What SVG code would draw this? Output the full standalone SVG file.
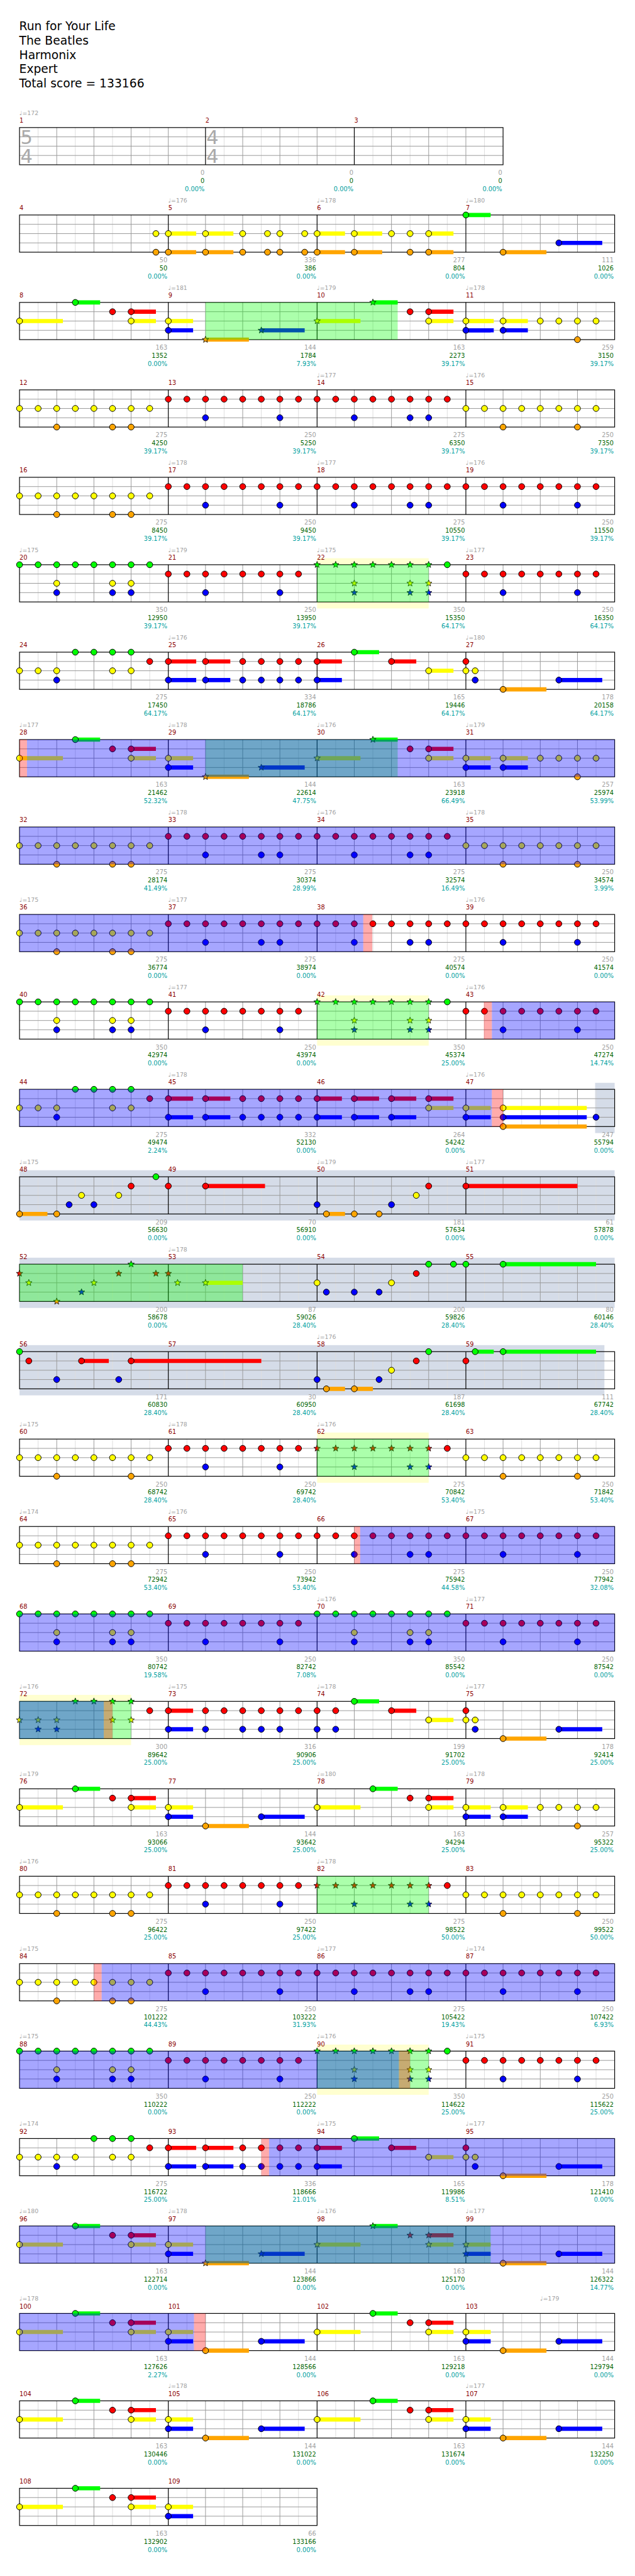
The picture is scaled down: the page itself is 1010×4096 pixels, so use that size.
<svg xmlns="http://www.w3.org/2000/svg" width="1010" height="4096" viewBox="0 0 1010 4096">
<style>
text{font-family:"DejaVu Sans",Verdana,sans-serif}
.h{font-size:19px;fill:#000}
.mn{font-size:10px;fill:#8b0000}
.tp{font-size:9.5px;fill:#a0a0a0}
.sc{font-size:10px;fill:#a0a0a0;text-anchor:end}
.c2{fill:#006400}.c3{fill:#00a0a0}
.ts{font-size:31px;fill:#aaa}
.sg,.sr,.sy,.sb,.so{stroke-width:6.7;fill:none}
.sg{stroke:#00ff00}.sr{stroke:#ff0000}.sy{stroke:#ffff00}.sb{stroke:#0000ff}.so{stroke:#ffa500}
.ovg{fill:#00ff00;fill-opacity:.33}.ovb{fill:#0000ff;fill-opacity:.35}.ovr{fill:#ff0000;fill-opacity:.33}
.bgy{fill:#ffffd0}.bgs{fill:#d5dce8}
.gl{stroke:#ddd;fill:none}.gd{stroke:#999;fill:none}.gb{stroke:#000;fill:none;stroke-width:1.2}
</style>
<defs>
<circle id="G" r="4.85" fill="#00ff00" stroke="#000"/>
<circle id="R" r="4.85" fill="#ff0000" stroke="#000"/>
<circle id="Y" r="4.85" fill="#ffff00" stroke="#000"/>
<circle id="B" r="4.85" fill="#0000ff" stroke="#000"/>
<circle id="O" r="4.85" fill="#ffa500" stroke="#000"/>
<path id="st" d="M0-5.5L1.35-1.86 5.23-1.7 2.19.71 3.23 4.45 0 2.3-3.23 4.45-2.19.71-5.23-1.7-1.35-1.86Z" stroke="#000" stroke-width=".8"/>
<use id="SG" href="#st" fill="#00ff00"/>
<use id="SR" href="#st" fill="#ff0000"/>
<use id="SY" href="#st" fill="#ffff00"/>
<use id="SB" href="#st" fill="#0000ff"/>
<use id="SO" href="#st" fill="#ffa500"/>
<g id="grid4">
<path class="gl" d="M61.5 0V60M121.5 0V60M181.5 0V60M241.5 0V60M301.5 0V60M361.5 0V60M421.5 0V60M481.5 0V60M541.5 0V60M601.5 0V60M661.5 0V60M721.5 0V60M781.5 0V60M841.5 0V60M901.5 0V60M961.5 0V60"/>
<path class="gd" d="M91.5 0V60M151.5 0V60M211.5 0V60M331.5 0V60M391.5 0V60M451.5 0V60M571.5 0V60M631.5 0V60M691.5 0V60M811.5 0V60M871.5 0V60M931.5 0V60M31.5 15H991.5M31.5 30H991.5M31.5 45H991.5"/>
<path class="gb" d="M271.5 0V60M511.5 0V60M751.5 0V60"/>
<rect class="gb" x="31.5" y="0" width="960" height="60"/>
</g>
<g id="grid0">
<path class="gl" d="M61.5 0V60M121.5 0V60M181.5 0V60M241.5 0V60M301.5 0V60M361.5 0V60M421.5 0V60M481.5 0V60M541.5 0V60M601.5 0V60M661.5 0V60M721.5 0V60M781.5 0V60"/>
<path class="gd" d="M91.5 0V60M151.5 0V60M211.5 0V60M271.5 0V60M391.5 0V60M451.5 0V60M511.5 0V60M631.5 0V60M691.5 0V60M751.5 0V60M31.5 15H811.5M31.5 30H811.5M31.5 45H811.5"/>
<path class="gb" d="M331.5 0V60M571.5 0V60"/>
<rect class="gb" x="31.5" y="0" width="780" height="60"/>
</g>
<g id="grid2">
<path class="gl" d="M61.5 0V60M121.5 0V60M181.5 0V60M241.5 0V60M301.5 0V60M361.5 0V60M421.5 0V60M481.5 0V60"/>
<path class="gd" d="M91.5 0V60M151.5 0V60M211.5 0V60M331.5 0V60M391.5 0V60M451.5 0V60M31.5 15H511.5M31.5 30H511.5M31.5 45H511.5"/>
<path class="gb" d="M271.5 0V60"/>
<rect class="gb" x="31.5" y="0" width="480" height="60"/>
</g>
<g id="e8R"><use href="#R" x="0" y="15"/><use href="#R" x="30" y="15"/><use href="#R" x="60" y="15"/><use href="#R" x="90" y="15"/><use href="#R" x="120" y="15"/><use href="#R" x="150" y="15"/><use href="#R" x="180" y="15"/><use href="#R" x="210" y="15"/></g>
<g id="e8Y"><use href="#Y" x="0" y="30"/><use href="#Y" x="30" y="30"/><use href="#Y" x="60" y="30"/><use href="#Y" x="90" y="30"/><use href="#Y" x="120" y="30"/><use href="#Y" x="150" y="30"/><use href="#Y" x="180" y="30"/><use href="#Y" x="210" y="30"/></g>
<g id="e8G"><use href="#G" x="0" y="0"/><use href="#G" x="30" y="0"/><use href="#G" x="60" y="0"/><use href="#G" x="90" y="0"/><use href="#G" x="120" y="0"/><use href="#G" x="150" y="0"/><use href="#G" x="180" y="0"/><use href="#G" x="210" y="0"/></g>
<g id="mA"><use href="#e8Y"/><use href="#O" x="60" y="60"/><use href="#O" x="150" y="60"/><use href="#O" x="180" y="60"/></g>
<g id="mD"><use href="#e8Y"/><use href="#O" x="60" y="60"/><use href="#O" x="180" y="60"/></g>
<g id="mB"><use href="#e8R"/><use href="#B" x="60" y="45"/><use href="#B" x="180" y="45"/></g>
<g id="mC"><use href="#e8R"/><use href="#B" x="60" y="45"/><use href="#B" x="150" y="45"/><use href="#B" x="180" y="45"/></g>
<g id="mE"><use href="#e8G"/><use href="#Y" x="60" y="30"/><use href="#Y" x="150" y="30"/><use href="#Y" x="180" y="30"/><use href="#B" x="60" y="45"/><use href="#B" x="150" y="45"/><use href="#B" x="180" y="45"/></g>
<g id="mS1"><use href="#SG" x="0" y="0"/><use href="#SG" x="30" y="0"/><use href="#SG" x="60" y="0"/><use href="#SG" x="90" y="0"/><use href="#SG" x="120" y="0"/><use href="#SG" x="150" y="0"/><use href="#SG" x="180" y="0"/><use href="#SY" x="60" y="30"/><use href="#SY" x="150" y="30"/><use href="#SY" x="180" y="30"/><use href="#SB" x="60" y="45"/><use href="#SB" x="150" y="45"/><use href="#SB" x="180" y="45"/><use href="#G" x="210" y="0"/></g>
<g id="mS2"><use href="#SR" x="0" y="15"/><use href="#SR" x="30" y="15"/><use href="#SR" x="60" y="15"/><use href="#SR" x="90" y="15"/><use href="#SR" x="120" y="15"/><use href="#SR" x="150" y="15"/><use href="#SR" x="180" y="15"/><use href="#SB" x="60" y="45"/><use href="#SB" x="150" y="45"/><use href="#SB" x="180" y="45"/><use href="#R" x="210" y="15"/></g>
<g id="mF"><use href="#G" x="90" y="0"/><use href="#G" x="120" y="0"/><use href="#G" x="150" y="0"/><use href="#G" x="180" y="0"/><use href="#R" x="210" y="15"/><use href="#Y" x="0" y="30"/><use href="#Y" x="30" y="30"/><use href="#Y" x="60" y="30"/><use href="#Y" x="150" y="30"/><use href="#Y" x="180" y="30"/><use href="#B" x="60" y="45"/></g>
<g id="m26p"><path class="sr" d="M0 15H40M120 15H160"/><path class="sb" d="M0 45H40"/><path class="sg" d="M60 0H100"/><path class="sy" d="M180 30H220"/><use href="#R" x="0" y="15"/><use href="#B" x="0" y="45"/><use href="#G" x="60" y="0"/><use href="#R" x="120" y="15"/><use href="#Y" x="180" y="30"/></g>
<g id="m27p"><path class="so" d="M60 60H130"/><path class="sb" d="M150 45H220"/><use href="#R" x="0" y="15"/><use href="#Y" x="0" y="30"/><use href="#Y" x="15" y="30"/><use href="#B" x="15" y="45"/><use href="#O" x="60" y="60"/><use href="#B" x="150" y="45"/></g>
<g id="L1"><path class="sy" d="M31.5 30H101.5M211.5 30H251.5M271.5 30H311.5"/><path class="sg" d="M121.5 0H161.5"/><path class="sr" d="M211.5 15H251.5"/><path class="sb" d="M271.5 45H311.5"/><use href="#Y" x="31.5" y="30"/><use href="#G" x="121.5" y="0"/><use href="#R" x="181.5" y="15"/><use href="#R" x="211.5" y="15"/><use href="#Y" x="211.5" y="30"/><use href="#Y" x="271.5" y="30"/><use href="#B" x="271.5" y="45"/></g>
<g id="LS"><path class="so" d="M331.5 60H401.5"/><path class="sb" d="M421.5 45H491.5"/><path class="sy" d="M511.5 30H581.5"/><path class="sg" d="M601.5 0H641.5"/><use href="#SO" x="331.5" y="60"/><use href="#SB" x="421.5" y="45"/><use href="#SY" x="511.5" y="30"/><use href="#SG" x="601.5" y="0"/></g>
<g id="LC"><path class="so" d="M331.5 60H401.5"/><path class="sb" d="M421.5 45H491.5"/><path class="sy" d="M511.5 30H581.5"/><path class="sg" d="M601.5 0H641.5"/><use href="#O" x="331.5" y="60"/><use href="#B" x="421.5" y="45"/><use href="#Y" x="511.5" y="30"/><use href="#G" x="601.5" y="0"/></g>
<g id="L2"><path class="sr" d="M691.5 15H731.5"/><path class="sy" d="M691.5 30H731.5M751.5 30H791.5M811.5 30H851.5"/><path class="sb" d="M751.5 45H791.5M811.5 45H851.5"/><use href="#R" x="661.5" y="15"/><use href="#R" x="691.5" y="15"/><use href="#Y" x="691.5" y="30"/><use href="#Y" x="751.5" y="30"/><use href="#B" x="751.5" y="45"/><use href="#Y" x="811.5" y="30"/><use href="#B" x="811.5" y="45"/><use href="#Y" x="871.5" y="30"/><use href="#Y" x="901.5" y="30"/><use href="#Y" x="931.5" y="30"/><use href="#Y" x="961.5" y="30"/><use href="#O" x="931.5" y="60"/></g>
<g id="L3"><path class="sr" d="M691.5 15H731.5"/><path class="sy" d="M691.5 30H731.5M751.5 30H791.5"/><path class="sb" d="M751.5 45H791.5M901.5 45H971.5"/><path class="so" d="M811.5 60H881.5"/><use href="#R" x="661.5" y="15"/><use href="#R" x="691.5" y="15"/><use href="#Y" x="691.5" y="30"/><use href="#Y" x="751.5" y="30"/><use href="#B" x="751.5" y="45"/><use href="#O" x="811.5" y="60"/><use href="#B" x="901.5" y="45"/></g>
</defs>
<g transform="scale(0.986)">
<g id="header">
<text class="h" x="31" y="49">Run for Your Life</text>
<text class="h" x="31" y="72">The Beatles</text>
<text class="h" x="31" y="95">Harmonix</text>
<text class="h" x="31" y="118">Expert</text>
<text class="h" x="31" y="141">Total score = 133166</text>
</g>

<g id="row-m1" transform="translate(0,205.7)">
<use href="#grid0"/>
<text class="ts" x="33" y="26.5">5</text><text class="ts" x="33" y="56.5">4</text>
<text class="ts" x="333" y="26.5">4</text><text class="ts" x="333" y="56.5">4</text>
<text class="tp" x="31.5" y="-20.5">♩=172</text>
<text class="mn" x="31.5" y="-8">1</text><text class="mn" x="331.5" y="-8">2</text><text class="mn" x="571.5" y="-8">3</text>
<text class="sc" x="330" y="76.5">0<tspan class="c2" x="330" y="89.5">0</tspan><tspan class="c3" x="330" y="102.5">0.00%</tspan></text>
<text class="sc" x="570" y="76.5">0<tspan class="c2" x="570" y="89.5">0</tspan><tspan class="c3" x="570" y="102.5">0.00%</tspan></text>
<text class="sc" x="810" y="76.5">0<tspan class="c2" x="810" y="89.5">0</tspan><tspan class="c3" x="810" y="102.5">0.00%</tspan></text>
</g>

<g id="row-m4" transform="translate(0,346.7)">
<use href="#grid4"/>
<path class="sy" d="M271.5 30H316.5M331.5 30H376.5M511.5 30H556.5M571.5 30H616.5M691.5 30H731.5"/>
<path class="so" d="M271.5 60H316.5M331.5 60H376.5M511.5 60H556.5M571.5 60H616.5M691.5 60H731.5M811.5 60H881.5"/>
<path class="sg" d="M751.5 0H791.5"/><path class="sb" d="M901.5 45H971.5"/>
<use href="#Y" x="251.5" y="30"/><use href="#Y" x="271.5" y="30"/><use href="#Y" x="331.5" y="30"/><use href="#Y" x="391.5" y="30"/><use href="#Y" x="431.5" y="30"/><use href="#Y" x="451.5" y="30"/><use href="#Y" x="491.5" y="30"/><use href="#Y" x="511.5" y="30"/><use href="#Y" x="571.5" y="30"/><use href="#Y" x="631.5" y="30"/><use href="#Y" x="661.5" y="30"/><use href="#Y" x="691.5" y="30"/>
<use href="#O" x="251.5" y="60"/><use href="#O" x="271.5" y="60"/><use href="#O" x="331.5" y="60"/><use href="#O" x="391.5" y="60"/><use href="#O" x="431.5" y="60"/><use href="#O" x="451.5" y="60"/><use href="#O" x="491.5" y="60"/><use href="#O" x="511.5" y="60"/><use href="#O" x="571.5" y="60"/><use href="#O" x="661.5" y="60"/><use href="#O" x="691.5" y="60"/><use href="#O" x="811.5" y="60"/>
<use href="#G" x="751.5" y="0"/><use href="#B" x="901.5" y="45"/>
<text class="tp" x="271.5" y="-20.5">♩=176</text><text class="tp" x="511.5" y="-20.5">♩=178</text><text class="tp" x="751.5" y="-20.5">♩=180</text>
<text class="mn" x="31.5" y="-8">4</text><text class="mn" x="271.5" y="-8">5</text><text class="mn" x="511.5" y="-8">6</text><text class="mn" x="751.5" y="-8">7</text>
<text class="sc" x="270" y="76.5">50<tspan class="c2" x="270" y="89.5">50</tspan><tspan class="c3" x="270" y="102.5">0.00%</tspan></text>
<text class="sc" x="510" y="76.5">336<tspan class="c2" x="510" y="89.5">386</tspan><tspan class="c3" x="510" y="102.5">0.00%</tspan></text>
<text class="sc" x="750" y="76.5">277<tspan class="c2" x="750" y="89.5">804</tspan><tspan class="c3" x="750" y="102.5">0.00%</tspan></text>
<text class="sc" x="990" y="76.5">111<tspan class="c2" x="990" y="89.5">1026</tspan><tspan class="c3" x="990" y="102.5">0.00%</tspan></text>
</g>

<g id="row-m8" transform="translate(0,487.7)">
<use href="#grid4"/>
<path class="sy" d="M751.5 30H796.5"/><path class="sb" d="M751.5 45H796.5"/>
<use href="#L1"/><use href="#LS"/><use href="#L2"/>
<rect class="ovg" x="331.5" y="0" width="310" height="60"/>
<text class="tp" x="271.5" y="-20.5">♩=181</text><text class="tp" x="511.5" y="-20.5">♩=179</text><text class="tp" x="751.5" y="-20.5">♩=178</text>
<text class="mn" x="31.5" y="-8">8</text><text class="mn" x="271.5" y="-8">9</text><text class="mn" x="511.5" y="-8">10</text><text class="mn" x="751.5" y="-8">11</text>
<text class="sc" x="270" y="76.5">163<tspan class="c2" x="270" y="89.5">1352</tspan><tspan class="c3" x="270" y="102.5">0.00%</tspan></text>
<text class="sc" x="510" y="76.5">144<tspan class="c2" x="510" y="89.5">1784</tspan><tspan class="c3" x="510" y="102.5">7.93%</tspan></text>
<text class="sc" x="750" y="76.5">163<tspan class="c2" x="750" y="89.5">2273</tspan><tspan class="c3" x="750" y="102.5">39.17%</tspan></text>
<text class="sc" x="990" y="76.5">259<tspan class="c2" x="990" y="89.5">3150</tspan><tspan class="c3" x="990" y="102.5">39.17%</tspan></text>
</g>

<g id="row-m12" transform="translate(0,628.7)">
<use href="#grid4"/>
<use href="#mA" x="31.5"/><use href="#mB" x="271.5"/><use href="#mC" x="511.5"/><use href="#mD" x="751.5"/>
<text class="tp" x="511.5" y="-20.5">♩=177</text><text class="tp" x="751.5" y="-20.5">♩=176</text>
<text class="mn" x="31.5" y="-8">12</text><text class="mn" x="271.5" y="-8">13</text><text class="mn" x="511.5" y="-8">14</text><text class="mn" x="751.5" y="-8">15</text>
<text class="sc" x="270" y="76.5">275<tspan class="c2" x="270" y="89.5">4250</tspan><tspan class="c3" x="270" y="102.5">39.17%</tspan></text>
<text class="sc" x="510" y="76.5">250<tspan class="c2" x="510" y="89.5">5250</tspan><tspan class="c3" x="510" y="102.5">39.17%</tspan></text>
<text class="sc" x="750" y="76.5">275<tspan class="c2" x="750" y="89.5">6350</tspan><tspan class="c3" x="750" y="102.5">39.17%</tspan></text>
<text class="sc" x="990" y="76.5">250<tspan class="c2" x="990" y="89.5">7350</tspan><tspan class="c3" x="990" y="102.5">39.17%</tspan></text>
</g>

<g id="row-m16" transform="translate(0,769.7)">
<use href="#grid4"/>
<use href="#mA" x="31.5"/><use href="#mB" x="271.5"/><use href="#mC" x="511.5"/><use href="#mB" x="751.5"/>
<text class="tp" x="271.5" y="-20.5">♩=178</text><text class="tp" x="511.5" y="-20.5">♩=177</text><text class="tp" x="751.5" y="-20.5">♩=176</text>
<text class="mn" x="31.5" y="-8">16</text><text class="mn" x="271.5" y="-8">17</text><text class="mn" x="511.5" y="-8">18</text><text class="mn" x="751.5" y="-8">19</text>
<text class="sc" x="270" y="76.5">275<tspan class="c2" x="270" y="89.5">8450</tspan><tspan class="c3" x="270" y="102.5">39.17%</tspan></text>
<text class="sc" x="510" y="76.5">250<tspan class="c2" x="510" y="89.5">9450</tspan><tspan class="c3" x="510" y="102.5">39.17%</tspan></text>
<text class="sc" x="750" y="76.5">275<tspan class="c2" x="750" y="89.5">10550</tspan><tspan class="c3" x="750" y="102.5">39.17%</tspan></text>
<text class="sc" x="990" y="76.5">250<tspan class="c2" x="990" y="89.5">11550</tspan><tspan class="c3" x="990" y="102.5">39.17%</tspan></text>
</g>

<g id="row-m20" transform="translate(0,910.7)">
<rect class="bgy" x="511.5" y="-10.5" width="180" height="10.5"/><rect class="bgy" x="511.5" y="60" width="180" height="10.5"/>
<use href="#grid4"/>
<use href="#mE" x="31.5"/><use href="#mB" x="271.5"/><use href="#mS1" x="511.5"/><use href="#mB" x="751.5"/>
<rect class="ovg" x="511.5" y="0" width="180" height="60"/>
<text class="tp" x="31.5" y="-20.5">♩=175</text><text class="tp" x="271.5" y="-20.5">♩=179</text><text class="tp" x="511.5" y="-20.5">♩=175</text><text class="tp" x="751.5" y="-20.5">♩=177</text>
<text class="mn" x="31.5" y="-8">20</text><text class="mn" x="271.5" y="-8">21</text><text class="mn" x="511.5" y="-8">22</text><text class="mn" x="751.5" y="-8">23</text>
<text class="sc" x="270" y="76.5">350<tspan class="c2" x="270" y="89.5">12950</tspan><tspan class="c3" x="270" y="102.5">39.17%</tspan></text>
<text class="sc" x="510" y="76.5">250<tspan class="c2" x="510" y="89.5">13950</tspan><tspan class="c3" x="510" y="102.5">39.17%</tspan></text>
<text class="sc" x="750" y="76.5">350<tspan class="c2" x="750" y="89.5">15350</tspan><tspan class="c3" x="750" y="102.5">64.17%</tspan></text>
<text class="sc" x="990" y="76.5">250<tspan class="c2" x="990" y="89.5">16350</tspan><tspan class="c3" x="990" y="102.5">64.17%</tspan></text>
</g>

<g id="row-m24" transform="translate(0,1051.7)">
<use href="#grid4"/>
<use href="#mF" x="31.5"/>
<path class="sr" d="M271.5 15H316.5M331.5 15H371.5"/><path class="sb" d="M271.5 45H316.5M331.5 45H371.5"/>
<use href="#R" x="271.5" y="15"/><use href="#R" x="331.5" y="15"/><use href="#R" x="391.5" y="15"/><use href="#R" x="421.5" y="15"/><use href="#R" x="451.5" y="15"/><use href="#R" x="481.5" y="15"/>
<use href="#B" x="271.5" y="45"/><use href="#B" x="331.5" y="45"/><use href="#B" x="391.5" y="45"/><use href="#B" x="421.5" y="45"/><use href="#B" x="451.5" y="45"/><use href="#B" x="481.5" y="45"/>
<use href="#m26p" x="511.5"/><use href="#m27p" x="751.5"/>
<text class="tp" x="271.5" y="-20.5">♩=176</text><text class="tp" x="751.5" y="-20.5">♩=180</text>
<text class="mn" x="31.5" y="-8">24</text><text class="mn" x="271.5" y="-8">25</text><text class="mn" x="511.5" y="-8">26</text><text class="mn" x="751.5" y="-8">27</text>
<text class="sc" x="270" y="76.5">275<tspan class="c2" x="270" y="89.5">17450</tspan><tspan class="c3" x="270" y="102.5">64.17%</tspan></text>
<text class="sc" x="510" y="76.5">334<tspan class="c2" x="510" y="89.5">18786</tspan><tspan class="c3" x="510" y="102.5">64.17%</tspan></text>
<text class="sc" x="750" y="76.5">165<tspan class="c2" x="750" y="89.5">19446</tspan><tspan class="c3" x="750" y="102.5">64.17%</tspan></text>
<text class="sc" x="990" y="76.5">178<tspan class="c2" x="990" y="89.5">20158</tspan><tspan class="c3" x="990" y="102.5">64.17%</tspan></text>
</g>

<g id="row-m28" transform="translate(0,1192.7)">
<use href="#grid4"/>
<use href="#L1"/><use href="#LS"/><use href="#L2"/>
<rect class="ovg" x="331.5" y="0" width="310" height="60"/>
<rect class="ovb" x="43.5" y="0" width="948" height="60"/>
<rect class="ovr" x="31.5" y="0" width="12" height="60"/>
<text class="tp" x="31.5" y="-20.5">♩=177</text><text class="tp" x="271.5" y="-20.5">♩=178</text><text class="tp" x="511.5" y="-20.5">♩=176</text><text class="tp" x="751.5" y="-20.5">♩=179</text>
<text class="mn" x="31.5" y="-8">28</text><text class="mn" x="271.5" y="-8">29</text><text class="mn" x="511.5" y="-8">30</text><text class="mn" x="751.5" y="-8">31</text>
<text class="sc" x="270" y="76.5">163<tspan class="c2" x="270" y="89.5">21462</tspan><tspan class="c3" x="270" y="102.5">52.32%</tspan></text>
<text class="sc" x="510" y="76.5">144<tspan class="c2" x="510" y="89.5">22614</tspan><tspan class="c3" x="510" y="102.5">47.75%</tspan></text>
<text class="sc" x="750" y="76.5">163<tspan class="c2" x="750" y="89.5">23918</tspan><tspan class="c3" x="750" y="102.5">66.49%</tspan></text>
<text class="sc" x="990" y="76.5">257<tspan class="c2" x="990" y="89.5">25974</tspan><tspan class="c3" x="990" y="102.5">53.99%</tspan></text>
</g>

<g id="row-m32" transform="translate(0,1333.7)">
<use href="#grid4"/>
<use href="#mA" x="31.5"/><use href="#mC" x="271.5"/><use href="#mC" x="511.5"/><use href="#mD" x="751.5"/>
<rect class="ovb" x="31.5" y="0" width="960" height="60"/>
<text class="tp" x="271.5" y="-20.5">♩=178</text><text class="tp" x="511.5" y="-20.5">♩=176</text><text class="tp" x="751.5" y="-20.5">♩=178</text>
<text class="mn" x="31.5" y="-8">32</text><text class="mn" x="271.5" y="-8">33</text><text class="mn" x="511.5" y="-8">34</text><text class="mn" x="751.5" y="-8">35</text>
<text class="sc" x="270" y="76.5">275<tspan class="c2" x="270" y="89.5">28174</tspan><tspan class="c3" x="270" y="102.5">41.49%</tspan></text>
<text class="sc" x="510" y="76.5">275<tspan class="c2" x="510" y="89.5">30374</tspan><tspan class="c3" x="510" y="102.5">28.99%</tspan></text>
<text class="sc" x="750" y="76.5">275<tspan class="c2" x="750" y="89.5">32574</tspan><tspan class="c3" x="750" y="102.5">16.49%</tspan></text>
<text class="sc" x="990" y="76.5">250<tspan class="c2" x="990" y="89.5">34574</tspan><tspan class="c3" x="990" y="102.5">3.99%</tspan></text>
</g>

<g id="row-m36" transform="translate(0,1474.7)">
<use href="#grid4"/>
<use href="#mA" x="31.5"/><use href="#mC" x="271.5"/><use href="#mC" x="511.5"/><use href="#mB" x="751.5"/>
<rect class="ovb" x="31.5" y="0" width="554.5" height="60"/>
<rect class="ovr" x="586" y="0" width="14.5" height="60"/>
<text class="tp" x="31.5" y="-20.5">♩=175</text><text class="tp" x="271.5" y="-20.5">♩=177</text><text class="tp" x="751.5" y="-20.5">♩=176</text>
<text class="mn" x="31.5" y="-8">36</text><text class="mn" x="271.5" y="-8">37</text><text class="mn" x="511.5" y="-8">38</text><text class="mn" x="751.5" y="-8">39</text>
<text class="sc" x="270" y="76.5">275<tspan class="c2" x="270" y="89.5">36774</tspan><tspan class="c3" x="270" y="102.5">0.00%</tspan></text>
<text class="sc" x="510" y="76.5">275<tspan class="c2" x="510" y="89.5">38974</tspan><tspan class="c3" x="510" y="102.5">0.00%</tspan></text>
<text class="sc" x="750" y="76.5">275<tspan class="c2" x="750" y="89.5">40574</tspan><tspan class="c3" x="750" y="102.5">0.00%</tspan></text>
<text class="sc" x="990" y="76.5">250<tspan class="c2" x="990" y="89.5">41574</tspan><tspan class="c3" x="990" y="102.5">0.00%</tspan></text>
</g>

<g id="row-m40" transform="translate(0,1615.7)">
<rect class="bgy" x="511.5" y="-10.5" width="180" height="10.5"/><rect class="bgy" x="511.5" y="60" width="180" height="10.5"/>
<use href="#grid4"/>
<use href="#mE" x="31.5"/><use href="#mB" x="271.5"/><use href="#mS1" x="511.5"/><use href="#mB" x="751.5"/>
<rect class="ovg" x="511.5" y="0" width="180" height="60"/>
<rect class="ovr" x="780.5" y="0" width="13" height="60"/>
<rect class="ovb" x="793.5" y="0" width="198" height="60"/>
<text class="tp" x="271.5" y="-20.5">♩=177</text><text class="tp" x="751.5" y="-20.5">♩=176</text>
<text class="mn" x="31.5" y="-8">40</text><text class="mn" x="271.5" y="-8">41</text><text class="mn" x="511.5" y="-8">42</text><text class="mn" x="751.5" y="-8">43</text>
<text class="sc" x="270" y="76.5">350<tspan class="c2" x="270" y="89.5">42974</tspan><tspan class="c3" x="270" y="102.5">0.00%</tspan></text>
<text class="sc" x="510" y="76.5">250<tspan class="c2" x="510" y="89.5">43974</tspan><tspan class="c3" x="510" y="102.5">0.00%</tspan></text>
<text class="sc" x="750" y="76.5">350<tspan class="c2" x="750" y="89.5">45374</tspan><tspan class="c3" x="750" y="102.5">25.00%</tspan></text>
<text class="sc" x="990" y="76.5">250<tspan class="c2" x="990" y="89.5">47274</tspan><tspan class="c3" x="990" y="102.5">14.74%</tspan></text>
</g>

<g id="row-m44" transform="translate(0,1756.7)">
<rect class="bgs" x="960" y="-10.5" width="31.5" height="81"/>
<use href="#grid4"/>
<use href="#mF" x="31.5"/>
<path class="sr" d="M271.5 15H311.5M331.5 15H371.5M511.5 15H551.5M571.5 15H611.5M631.5 15H671.5M691.5 15H731.5"/>
<path class="sb" d="M271.5 45H311.5M331.5 45H371.5M511.5 45H551.5M571.5 45H611.5M631.5 45H671.5M751.5 45H791.5M811.5 45H946.5"/>
<path class="sy" d="M691.5 30H731.5M751.5 30H791.5M811.5 30H946.5"/>
<path class="so" d="M811.5 60H946.5"/>
<use href="#R" x="271.5" y="15"/><use href="#R" x="331.5" y="15"/><use href="#R" x="391.5" y="15"/><use href="#R" x="421.5" y="15"/><use href="#R" x="451.5" y="15"/><use href="#R" x="481.5" y="15"/>
<use href="#B" x="271.5" y="45"/><use href="#B" x="331.5" y="45"/><use href="#B" x="391.5" y="45"/><use href="#B" x="421.5" y="45"/><use href="#B" x="451.5" y="45"/><use href="#B" x="481.5" y="45"/>
<use href="#R" x="511.5" y="15"/><use href="#R" x="571.5" y="15"/><use href="#R" x="631.5" y="15"/><use href="#R" x="691.5" y="15"/>
<use href="#B" x="511.5" y="45"/><use href="#B" x="571.5" y="45"/><use href="#B" x="631.5" y="45"/><use href="#Y" x="691.5" y="30"/>
<use href="#Y" x="751.5" y="30"/><use href="#Y" x="811.5" y="30"/><use href="#B" x="751.5" y="45"/><use href="#B" x="811.5" y="45"/><use href="#B" x="961.5" y="45"/><use href="#O" x="811.5" y="60"/>
<rect class="ovb" x="31.5" y="0" width="762" height="60"/>
<rect class="ovr" x="793.5" y="0" width="18" height="60"/>
<text class="tp" x="271.5" y="-20.5">♩=178</text><text class="tp" x="751.5" y="-20.5">♩=176</text>
<text class="mn" x="31.5" y="-8">44</text><text class="mn" x="271.5" y="-8">45</text><text class="mn" x="511.5" y="-8">46</text><text class="mn" x="751.5" y="-8">47</text>
<text class="sc" x="270" y="76.5">275<tspan class="c2" x="270" y="89.5">49474</tspan><tspan class="c3" x="270" y="102.5">2.24%</tspan></text>
<text class="sc" x="510" y="76.5">332<tspan class="c2" x="510" y="89.5">52130</tspan><tspan class="c3" x="510" y="102.5">0.00%</tspan></text>
<text class="sc" x="750" y="76.5">264<tspan class="c2" x="750" y="89.5">54242</tspan><tspan class="c3" x="750" y="102.5">0.00%</tspan></text>
<text class="sc" x="990" y="76.5">247<tspan class="c2" x="990" y="89.5">55794</tspan><tspan class="c3" x="990" y="102.5">0.00%</tspan></text>
</g>

<g id="row-m48" transform="translate(0,1897.7)">
<rect class="bgs" x="31.5" y="-10.5" width="960" height="81"/>
<use href="#grid4"/>
<path class="so" d="M31.5 60H76.5M526.5 60H556.5"/><path class="sr" d="M331.5 15H427.5M751.5 15H931.5"/>
<use href="#O" x="31.5" y="60"/><use href="#O" x="91.5" y="60"/><use href="#O" x="526.5" y="60"/><use href="#O" x="571.5" y="60"/><use href="#O" x="611.5" y="60"/>
<use href="#B" x="111.5" y="45"/><use href="#B" x="151.5" y="45"/><use href="#B" x="511.5" y="45"/><use href="#B" x="631.5" y="45"/>
<use href="#Y" x="131.5" y="30"/><use href="#Y" x="191.5" y="30"/><use href="#Y" x="671.5" y="30"/>
<use href="#R" x="211.5" y="15"/><use href="#R" x="271.5" y="15"/><use href="#R" x="331.5" y="15"/><use href="#R" x="691.5" y="15"/><use href="#R" x="751.5" y="15"/>
<use href="#G" x="251.5" y="0"/>
<text class="tp" x="31.5" y="-20.5">♩=175</text><text class="tp" x="511.5" y="-20.5">♩=179</text><text class="tp" x="751.5" y="-20.5">♩=177</text>
<text class="mn" x="31.5" y="-8">48</text><text class="mn" x="271.5" y="-8">49</text><text class="mn" x="511.5" y="-8">50</text><text class="mn" x="751.5" y="-8">51</text>
<text class="sc" x="270" y="76.5">209<tspan class="c2" x="270" y="89.5">56630</tspan><tspan class="c3" x="270" y="102.5">0.00%</tspan></text>
<text class="sc" x="510" y="76.5">70<tspan class="c2" x="510" y="89.5">56910</tspan><tspan class="c3" x="510" y="102.5">0.00%</tspan></text>
<text class="sc" x="750" y="76.5">181<tspan class="c2" x="750" y="89.5">57634</tspan><tspan class="c3" x="750" y="102.5">0.00%</tspan></text>
<text class="sc" x="990" y="76.5">61<tspan class="c2" x="990" y="89.5">57878</tspan><tspan class="c3" x="990" y="102.5">0.00%</tspan></text>
</g>

<g id="row-m52" transform="translate(0,2038.7)">
<rect class="bgs" x="31.5" y="-10.5" width="960" height="81"/>
<use href="#grid4"/>
<path class="sy" d="M331.5 30H391.5"/><path class="sg" d="M811.5 0H961.5"/>
<use href="#SR" x="31.5" y="15"/><use href="#SY" x="46.5" y="30"/><use href="#SO" x="91.5" y="60"/><use href="#SB" x="131.5" y="45"/><use href="#SY" x="151.5" y="30"/><use href="#SR" x="191.5" y="15"/><use href="#SG" x="211.5" y="0"/><use href="#SR" x="251.5" y="15"/><use href="#SR" x="271.5" y="15"/><use href="#SY" x="286.5" y="30"/><use href="#SY" x="331.5" y="30"/>
<use href="#Y" x="511.5" y="30"/><use href="#B" x="526.5" y="45"/><use href="#B" x="571.5" y="45"/><use href="#B" x="611.5" y="45"/><use href="#Y" x="631.5" y="30"/><use href="#R" x="671.5" y="15"/><use href="#G" x="691.5" y="0"/><use href="#G" x="731.5" y="0"/><use href="#G" x="751.5" y="0"/><use href="#G" x="811.5" y="0"/>
<rect class="ovg" x="31.5" y="0" width="360" height="60"/>
<text class="tp" x="271.5" y="-20.5">♩=178</text>
<text class="mn" x="31.5" y="-8">52</text><text class="mn" x="271.5" y="-8">53</text><text class="mn" x="511.5" y="-8">54</text><text class="mn" x="751.5" y="-8">55</text>
<text class="sc" x="270" y="76.5">200<tspan class="c2" x="270" y="89.5">58678</tspan><tspan class="c3" x="270" y="102.5">0.00%</tspan></text>
<text class="sc" x="510" y="76.5">87<tspan class="c2" x="510" y="89.5">59026</tspan><tspan class="c3" x="510" y="102.5">28.40%</tspan></text>
<text class="sc" x="750" y="76.5">200<tspan class="c2" x="750" y="89.5">59826</tspan><tspan class="c3" x="750" y="102.5">28.40%</tspan></text>
<text class="sc" x="990" y="76.5">80<tspan class="c2" x="990" y="89.5">60146</tspan><tspan class="c3" x="990" y="102.5">28.40%</tspan></text>
</g>

<g id="row-m56" transform="translate(0,2179.7)">
<rect class="bgs" x="31.5" y="-10.5" width="943.5" height="81"/>
<use href="#grid4"/>
<path class="sr" d="M131.5 15H175.5M211.5 15H421.5"/><path class="so" d="M526.5 60H556.5M571.5 60H601.5"/><path class="sg" d="M766.5 0H796.5M811.5 0H961.5"/>
<use href="#G" x="31.5" y="0"/><use href="#R" x="46.5" y="15"/><use href="#R" x="131.5" y="15"/><use href="#R" x="211.5" y="15"/><use href="#B" x="91.5" y="45"/><use href="#B" x="191.5" y="45"/>
<use href="#B" x="511.5" y="45"/><use href="#O" x="526.5" y="60"/><use href="#O" x="571.5" y="60"/><use href="#B" x="611.5" y="45"/><use href="#Y" x="631.5" y="30"/><use href="#R" x="671.5" y="15"/><use href="#G" x="691.5" y="0"/><use href="#R" x="751.5" y="15"/><use href="#G" x="766.5" y="0"/><use href="#G" x="811.5" y="0"/>
<text class="tp" x="511.5" y="-20.5">♩=176</text>
<text class="mn" x="31.5" y="-8">56</text><text class="mn" x="271.5" y="-8">57</text><text class="mn" x="511.5" y="-8">58</text><text class="mn" x="751.5" y="-8">59</text>
<text class="sc" x="270" y="76.5">171<tspan class="c2" x="270" y="89.5">60830</tspan><tspan class="c3" x="270" y="102.5">28.40%</tspan></text>
<text class="sc" x="510" y="76.5">30<tspan class="c2" x="510" y="89.5">60950</tspan><tspan class="c3" x="510" y="102.5">28.40%</tspan></text>
<text class="sc" x="750" y="76.5">187<tspan class="c2" x="750" y="89.5">61698</tspan><tspan class="c3" x="750" y="102.5">28.40%</tspan></text>
<text class="sc" x="990" y="76.5">111<tspan class="c2" x="990" y="89.5">67742</tspan><tspan class="c3" x="990" y="102.5">28.40%</tspan></text>
</g>

<g id="row-m60" transform="translate(0,2320.7)">
<rect class="bgy" x="511.5" y="-10.5" width="180" height="10.5"/><rect class="bgy" x="511.5" y="60" width="180" height="10.5"/>
<use href="#grid4"/>
<use href="#mD" x="31.5"/><use href="#mB" x="271.5"/><use href="#mS2" x="511.5"/><use href="#mD" x="751.5"/>
<rect class="ovg" x="511.5" y="0" width="180" height="60"/>
<text class="tp" x="31.5" y="-20.5">♩=175</text><text class="tp" x="271.5" y="-20.5">♩=178</text><text class="tp" x="511.5" y="-20.5">♩=176</text>
<text class="mn" x="31.5" y="-8">60</text><text class="mn" x="271.5" y="-8">61</text><text class="mn" x="511.5" y="-8">62</text><text class="mn" x="751.5" y="-8">63</text>
<text class="sc" x="270" y="76.5">250<tspan class="c2" x="270" y="89.5">68742</tspan><tspan class="c3" x="270" y="102.5">28.40%</tspan></text>
<text class="sc" x="510" y="76.5">250<tspan class="c2" x="510" y="89.5">69742</tspan><tspan class="c3" x="510" y="102.5">28.40%</tspan></text>
<text class="sc" x="750" y="76.5">275<tspan class="c2" x="750" y="89.5">70842</tspan><tspan class="c3" x="750" y="102.5">53.40%</tspan></text>
<text class="sc" x="990" y="76.5">250<tspan class="c2" x="990" y="89.5">71842</tspan><tspan class="c3" x="990" y="102.5">53.40%</tspan></text>
</g>

<g id="row-m64" transform="translate(0,2461.7)">
<use href="#grid4"/>
<use href="#mA" x="31.5"/><use href="#mB" x="271.5"/><use href="#mC" x="511.5"/><use href="#mB" x="751.5"/>
<rect class="ovr" x="571.5" y="0" width="9.5" height="60"/>
<rect class="ovb" x="581" y="0" width="410.5" height="60"/>
<text class="tp" x="31.5" y="-20.5">♩=174</text><text class="tp" x="271.5" y="-20.5">♩=176</text><text class="tp" x="751.5" y="-20.5">♩=175</text>
<text class="mn" x="31.5" y="-8">64</text><text class="mn" x="271.5" y="-8">65</text><text class="mn" x="511.5" y="-8">66</text><text class="mn" x="751.5" y="-8">67</text>
<text class="sc" x="270" y="76.5">275<tspan class="c2" x="270" y="89.5">72942</tspan><tspan class="c3" x="270" y="102.5">53.40%</tspan></text>
<text class="sc" x="510" y="76.5">250<tspan class="c2" x="510" y="89.5">73942</tspan><tspan class="c3" x="510" y="102.5">53.40%</tspan></text>
<text class="sc" x="750" y="76.5">275<tspan class="c2" x="750" y="89.5">75942</tspan><tspan class="c3" x="750" y="102.5">44.58%</tspan></text>
<text class="sc" x="990" y="76.5">250<tspan class="c2" x="990" y="89.5">77942</tspan><tspan class="c3" x="990" y="102.5">32.08%</tspan></text>
</g>

<g id="row-m68" transform="translate(0,2602.7)">
<use href="#grid4"/>
<use href="#mE" x="31.5"/><use href="#mB" x="271.5"/><use href="#mE" x="511.5"/><use href="#mB" x="751.5"/>
<rect class="ovb" x="31.5" y="0" width="960" height="60"/>
<text class="tp" x="511.5" y="-20.5">♩=176</text><text class="tp" x="751.5" y="-20.5">♩=177</text>
<text class="mn" x="31.5" y="-8">68</text><text class="mn" x="271.5" y="-8">69</text><text class="mn" x="511.5" y="-8">70</text><text class="mn" x="751.5" y="-8">71</text>
<text class="sc" x="270" y="76.5">350<tspan class="c2" x="270" y="89.5">80742</tspan><tspan class="c3" x="270" y="102.5">19.58%</tspan></text>
<text class="sc" x="510" y="76.5">250<tspan class="c2" x="510" y="89.5">82742</tspan><tspan class="c3" x="510" y="102.5">7.08%</tspan></text>
<text class="sc" x="750" y="76.5">350<tspan class="c2" x="750" y="89.5">85542</tspan><tspan class="c3" x="750" y="102.5">0.00%</tspan></text>
<text class="sc" x="990" y="76.5">250<tspan class="c2" x="990" y="89.5">87542</tspan><tspan class="c3" x="990" y="102.5">0.00%</tspan></text>
</g>

<g id="row-m72" transform="translate(0,2743.7)">
<rect class="bgy" x="31.5" y="-10.5" width="180" height="10.5"/><rect class="bgy" x="31.5" y="60" width="180" height="10.5"/>
<use href="#grid4"/>
<use href="#SG" x="121.5" y="0"/><use href="#SG" x="151.5" y="0"/><use href="#SG" x="181.5" y="0"/><use href="#SG" x="211.5" y="0"/>
<use href="#SY" x="31.5" y="30"/><use href="#SY" x="61.5" y="30"/><use href="#SY" x="91.5" y="30"/><use href="#SY" x="181.5" y="30"/><use href="#SY" x="211.5" y="30"/>
<use href="#SB" x="61.5" y="45"/><use href="#SB" x="91.5" y="45"/><use href="#R" x="241.5" y="15"/>
<path class="sr" d="M271.5 15H311.5M631.5 15H671.5"/><path class="sb" d="M271.5 45H311.5"/><path class="sg" d="M571.5 0H611.5"/><path class="sy" d="M691.5 30H731.5"/>
<use href="#R" x="271.5" y="15"/><use href="#R" x="331.5" y="15"/><use href="#R" x="361.5" y="15"/><use href="#R" x="391.5" y="15"/><use href="#R" x="421.5" y="15"/><use href="#R" x="451.5" y="15"/><use href="#R" x="481.5" y="15"/>
<use href="#B" x="271.5" y="45"/><use href="#B" x="331.5" y="45"/><use href="#B" x="391.5" y="45"/><use href="#B" x="421.5" y="45"/><use href="#B" x="451.5" y="45"/>
<use href="#R" x="511.5" y="15"/><use href="#R" x="541.5" y="15"/><use href="#B" x="511.5" y="45"/><use href="#B" x="541.5" y="45"/><use href="#G" x="571.5" y="0"/><use href="#R" x="631.5" y="15"/><use href="#Y" x="691.5" y="30"/>
<use href="#m27p" x="751.5"/>
<rect class="ovg" x="31.5" y="0" width="180" height="60"/>
<rect class="ovb" x="31.5" y="0" width="136" height="60"/>
<rect class="ovr" x="167.5" y="0" width="14" height="60"/>
<text class="tp" x="31.5" y="-20.5">♩=176</text><text class="tp" x="271.5" y="-20.5">♩=175</text><text class="tp" x="511.5" y="-20.5">♩=178</text><text class="tp" x="751.5" y="-20.5">♩=177</text>
<text class="mn" x="31.5" y="-8">72</text><text class="mn" x="271.5" y="-8">73</text><text class="mn" x="511.5" y="-8">74</text><text class="mn" x="751.5" y="-8">75</text>
<text class="sc" x="270" y="76.5">300<tspan class="c2" x="270" y="89.5">89642</tspan><tspan class="c3" x="270" y="102.5">25.00%</tspan></text>
<text class="sc" x="510" y="76.5">316<tspan class="c2" x="510" y="89.5">90906</tspan><tspan class="c3" x="510" y="102.5">25.00%</tspan></text>
<text class="sc" x="750" y="76.5">199<tspan class="c2" x="750" y="89.5">91702</tspan><tspan class="c3" x="750" y="102.5">25.00%</tspan></text>
<text class="sc" x="990" y="76.5">178<tspan class="c2" x="990" y="89.5">92414</tspan><tspan class="c3" x="990" y="102.5">25.00%</tspan></text>
</g>

<g id="row-m76" transform="translate(0,2884.7)">
<use href="#grid4"/>
<use href="#L1"/><use href="#LC"/><use href="#L2"/>
<text class="tp" x="31.5" y="-20.5">♩=179</text><text class="tp" x="511.5" y="-20.5">♩=180</text><text class="tp" x="751.5" y="-20.5">♩=178</text>
<text class="mn" x="31.5" y="-8">76</text><text class="mn" x="271.5" y="-8">77</text><text class="mn" x="511.5" y="-8">78</text><text class="mn" x="751.5" y="-8">79</text>
<text class="sc" x="270" y="76.5">163<tspan class="c2" x="270" y="89.5">93066</tspan><tspan class="c3" x="270" y="102.5">25.00%</tspan></text>
<text class="sc" x="510" y="76.5">144<tspan class="c2" x="510" y="89.5">93642</tspan><tspan class="c3" x="510" y="102.5">25.00%</tspan></text>
<text class="sc" x="750" y="76.5">163<tspan class="c2" x="750" y="89.5">94294</tspan><tspan class="c3" x="750" y="102.5">25.00%</tspan></text>
<text class="sc" x="990" y="76.5">257<tspan class="c2" x="990" y="89.5">95322</tspan><tspan class="c3" x="990" y="102.5">25.00%</tspan></text>
</g>

<g id="row-m80" transform="translate(0,3025.7)">
<use href="#grid4"/>
<use href="#mA" x="31.5"/><use href="#mB" x="271.5"/><use href="#mS2" x="511.5"/><use href="#mD" x="751.5"/>
<rect class="ovg" x="511.5" y="0" width="180" height="60"/>
<text class="tp" x="31.5" y="-20.5">♩=176</text><text class="tp" x="511.5" y="-20.5">♩=178</text>
<text class="mn" x="31.5" y="-8">80</text><text class="mn" x="271.5" y="-8">81</text><text class="mn" x="511.5" y="-8">82</text><text class="mn" x="751.5" y="-8">83</text>
<text class="sc" x="270" y="76.5">275<tspan class="c2" x="270" y="89.5">96422</tspan><tspan class="c3" x="270" y="102.5">25.00%</tspan></text>
<text class="sc" x="510" y="76.5">250<tspan class="c2" x="510" y="89.5">97422</tspan><tspan class="c3" x="510" y="102.5">25.00%</tspan></text>
<text class="sc" x="750" y="76.5">275<tspan class="c2" x="750" y="89.5">98522</tspan><tspan class="c3" x="750" y="102.5">50.00%</tspan></text>
<text class="sc" x="990" y="76.5">250<tspan class="c2" x="990" y="89.5">99522</tspan><tspan class="c3" x="990" y="102.5">50.00%</tspan></text>
</g>

<g id="row-m84" transform="translate(0,3166.7)">
<use href="#grid4"/>
<use href="#mA" x="31.5"/><use href="#mB" x="271.5"/><use href="#mC" x="511.5"/><use href="#mB" x="751.5"/>
<rect class="ovr" x="151.5" y="0" width="12.5" height="60"/>
<rect class="ovb" x="164" y="0" width="827.5" height="60"/>
<text class="tp" x="31.5" y="-20.5">♩=175</text><text class="tp" x="511.5" y="-20.5">♩=177</text><text class="tp" x="751.5" y="-20.5">♩=174</text>
<text class="mn" x="31.5" y="-8">84</text><text class="mn" x="271.5" y="-8">85</text><text class="mn" x="511.5" y="-8">86</text><text class="mn" x="751.5" y="-8">87</text>
<text class="sc" x="270" y="76.5">275<tspan class="c2" x="270" y="89.5">101222</tspan><tspan class="c3" x="270" y="102.5">44.43%</tspan></text>
<text class="sc" x="510" y="76.5">250<tspan class="c2" x="510" y="89.5">103222</tspan><tspan class="c3" x="510" y="102.5">31.93%</tspan></text>
<text class="sc" x="750" y="76.5">275<tspan class="c2" x="750" y="89.5">105422</tspan><tspan class="c3" x="750" y="102.5">19.43%</tspan></text>
<text class="sc" x="990" y="76.5">250<tspan class="c2" x="990" y="89.5">107422</tspan><tspan class="c3" x="990" y="102.5">6.93%</tspan></text>
</g>

<g id="row-m88" transform="translate(0,3307.7)">
<rect class="bgy" x="511.5" y="-10.5" width="180" height="10.5"/><rect class="bgy" x="511.5" y="60" width="180" height="10.5"/>
<use href="#grid4"/>
<use href="#mE" x="31.5"/><use href="#mB" x="271.5"/><use href="#mS1" x="511.5"/><use href="#mB" x="751.5"/>
<rect class="ovg" x="511.5" y="0" width="180" height="60"/>
<rect class="ovb" x="31.5" y="0" width="612" height="60"/>
<rect class="ovr" x="643.5" y="0" width="18" height="60"/>
<text class="tp" x="31.5" y="-20.5">♩=175</text><text class="tp" x="511.5" y="-20.5">♩=176</text><text class="tp" x="751.5" y="-20.5">♩=175</text>
<text class="mn" x="31.5" y="-8">88</text><text class="mn" x="271.5" y="-8">89</text><text class="mn" x="511.5" y="-8">90</text><text class="mn" x="751.5" y="-8">91</text>
<text class="sc" x="270" y="76.5">350<tspan class="c2" x="270" y="89.5">110222</tspan><tspan class="c3" x="270" y="102.5">0.00%</tspan></text>
<text class="sc" x="510" y="76.5">250<tspan class="c2" x="510" y="89.5">112222</tspan><tspan class="c3" x="510" y="102.5">0.00%</tspan></text>
<text class="sc" x="750" y="76.5">350<tspan class="c2" x="750" y="89.5">114622</tspan><tspan class="c3" x="750" y="102.5">25.00%</tspan></text>
<text class="sc" x="990" y="76.5">250<tspan class="c2" x="990" y="89.5">115622</tspan><tspan class="c3" x="990" y="102.5">25.00%</tspan></text>
</g>

<g id="row-m92" transform="translate(0,3448.7)">
<use href="#grid4"/>
<use href="#G" x="151.5" y="0"/><use href="#G" x="181.5" y="0"/><use href="#G" x="211.5" y="0"/><use href="#R" x="241.5" y="15"/>
<use href="#Y" x="31.5" y="30"/><use href="#Y" x="61.5" y="30"/><use href="#Y" x="91.5" y="30"/><use href="#Y" x="121.5" y="30"/><use href="#Y" x="181.5" y="30"/><use href="#Y" x="211.5" y="30"/><use href="#B" x="91.5" y="45"/>
<path class="sr" d="M271.5 15H316.5M331.5 15H376.5"/><path class="sb" d="M271.5 45H316.5M331.5 45H376.5"/>
<use href="#R" x="271.5" y="15"/><use href="#R" x="331.5" y="15"/><use href="#R" x="391.5" y="15"/><use href="#R" x="421.5" y="15"/><use href="#R" x="451.5" y="15"/><use href="#R" x="481.5" y="15"/>
<use href="#B" x="271.5" y="45"/><use href="#B" x="331.5" y="45"/><use href="#B" x="391.5" y="45"/><use href="#B" x="421.5" y="45"/><use href="#B" x="451.5" y="45"/><use href="#B" x="481.5" y="45"/>
<use href="#m26p" x="511.5"/><use href="#m27p" x="751.5"/>
<rect class="ovr" x="421.5" y="0" width="12.5" height="60"/>
<rect class="ovb" x="434" y="0" width="557.5" height="60"/>
<text class="tp" x="31.5" y="-20.5">♩=174</text><text class="tp" x="511.5" y="-20.5">♩=175</text><text class="tp" x="751.5" y="-20.5">♩=177</text>
<text class="mn" x="31.5" y="-8">92</text><text class="mn" x="271.5" y="-8">93</text><text class="mn" x="511.5" y="-8">94</text><text class="mn" x="751.5" y="-8">95</text>
<text class="sc" x="270" y="76.5">275<tspan class="c2" x="270" y="89.5">116722</tspan><tspan class="c3" x="270" y="102.5">25.00%</tspan></text>
<text class="sc" x="510" y="76.5">336<tspan class="c2" x="510" y="89.5">118666</tspan><tspan class="c3" x="510" y="102.5">21.01%</tspan></text>
<text class="sc" x="750" y="76.5">165<tspan class="c2" x="750" y="89.5">119986</tspan><tspan class="c3" x="750" y="102.5">8.51%</tspan></text>
<text class="sc" x="990" y="76.5">178<tspan class="c2" x="990" y="89.5">121410</tspan><tspan class="c3" x="990" y="102.5">0.00%</tspan></text>
</g>

<g id="row-m96" transform="translate(0,3589.7)">
<use href="#grid4"/>
<use href="#L1"/><use href="#LS"/>
<path class="sr" d="M691.5 15H731.5"/><path class="sy" d="M691.5 30H731.5M751.5 30H791.5"/><path class="sb" d="M751.5 45H791.5M901.5 45H971.5"/><path class="so" d="M811.5 60H881.5"/>
<use href="#SR" x="661.5" y="15"/><use href="#SR" x="691.5" y="15"/><use href="#SY" x="691.5" y="30"/><use href="#SY" x="751.5" y="30"/><use href="#SB" x="751.5" y="45"/><use href="#O" x="811.5" y="60"/><use href="#B" x="901.5" y="45"/>
<rect class="ovg" x="331.5" y="0" width="460" height="60"/>
<rect class="ovb" x="31.5" y="0" width="960" height="60"/>
<text class="tp" x="31.5" y="-20.5">♩=180</text><text class="tp" x="271.5" y="-20.5">♩=178</text><text class="tp" x="511.5" y="-20.5">♩=176</text><text class="tp" x="751.5" y="-20.5">♩=177</text>
<text class="mn" x="31.5" y="-8">96</text><text class="mn" x="271.5" y="-8">97</text><text class="mn" x="511.5" y="-8">98</text><text class="mn" x="751.5" y="-8">99</text>
<text class="sc" x="270" y="76.5">163<tspan class="c2" x="270" y="89.5">122714</tspan><tspan class="c3" x="270" y="102.5">0.00%</tspan></text>
<text class="sc" x="510" y="76.5">144<tspan class="c2" x="510" y="89.5">123866</tspan><tspan class="c3" x="510" y="102.5">0.00%</tspan></text>
<text class="sc" x="750" y="76.5">163<tspan class="c2" x="750" y="89.5">125170</tspan><tspan class="c3" x="750" y="102.5">0.00%</tspan></text>
<text class="sc" x="990" y="76.5">144<tspan class="c2" x="990" y="89.5">126322</tspan><tspan class="c3" x="990" y="102.5">14.77%</tspan></text>
</g>

<g id="row-m100" transform="translate(0,3730.7)">
<use href="#grid4"/>
<use href="#L1"/><use href="#LC"/><use href="#L3"/>
<rect class="ovb" x="31.5" y="0" width="281.5" height="60"/>
<rect class="ovr" x="313" y="0" width="18.5" height="60"/>
<text class="tp" x="31.5" y="-20.5">♩=178</text><text class="tp" x="871.5" y="-20.5">♩=179</text>
<text class="mn" x="31.5" y="-8">100</text><text class="mn" x="271.5" y="-8">101</text><text class="mn" x="511.5" y="-8">102</text><text class="mn" x="751.5" y="-8">103</text>
<text class="sc" x="270" y="76.5">163<tspan class="c2" x="270" y="89.5">127626</tspan><tspan class="c3" x="270" y="102.5">2.27%</tspan></text>
<text class="sc" x="510" y="76.5">144<tspan class="c2" x="510" y="89.5">128566</tspan><tspan class="c3" x="510" y="102.5">0.00%</tspan></text>
<text class="sc" x="750" y="76.5">163<tspan class="c2" x="750" y="89.5">129218</tspan><tspan class="c3" x="750" y="102.5">0.00%</tspan></text>
<text class="sc" x="990" y="76.5">144<tspan class="c2" x="990" y="89.5">129794</tspan><tspan class="c3" x="990" y="102.5">0.00%</tspan></text>
</g>

<g id="row-m104" transform="translate(0,3871.7)">
<use href="#grid4"/>
<use href="#L1"/><use href="#LC"/><use href="#L3"/>
<text class="tp" x="271.5" y="-20.5">♩=178</text><text class="tp" x="751.5" y="-20.5">♩=177</text>
<text class="mn" x="31.5" y="-8">104</text><text class="mn" x="271.5" y="-8">105</text><text class="mn" x="511.5" y="-8">106</text><text class="mn" x="751.5" y="-8">107</text>
<text class="sc" x="270" y="76.5">163<tspan class="c2" x="270" y="89.5">130446</tspan><tspan class="c3" x="270" y="102.5">0.00%</tspan></text>
<text class="sc" x="510" y="76.5">144<tspan class="c2" x="510" y="89.5">131022</tspan><tspan class="c3" x="510" y="102.5">0.00%</tspan></text>
<text class="sc" x="750" y="76.5">163<tspan class="c2" x="750" y="89.5">131674</tspan><tspan class="c3" x="750" y="102.5">0.00%</tspan></text>
<text class="sc" x="990" y="76.5">144<tspan class="c2" x="990" y="89.5">132250</tspan><tspan class="c3" x="990" y="102.5">0.00%</tspan></text>
</g>

<g id="row-m108" transform="translate(0,4012.7)">
<use href="#grid2"/>
<use href="#L1"/>
<text class="mn" x="31.5" y="-8">108</text><text class="mn" x="271.5" y="-8">109</text>
<text class="sc" x="270" y="76.5">163<tspan class="c2" x="270" y="89.5">132902</tspan><tspan class="c3" x="270" y="102.5">0.00%</tspan></text>
<text class="sc" x="510" y="76.5">66<tspan class="c2" x="510" y="89.5">133166</tspan><tspan class="c3" x="510" y="102.5">0.00%</tspan></text>
</g>
</g>
</svg>
